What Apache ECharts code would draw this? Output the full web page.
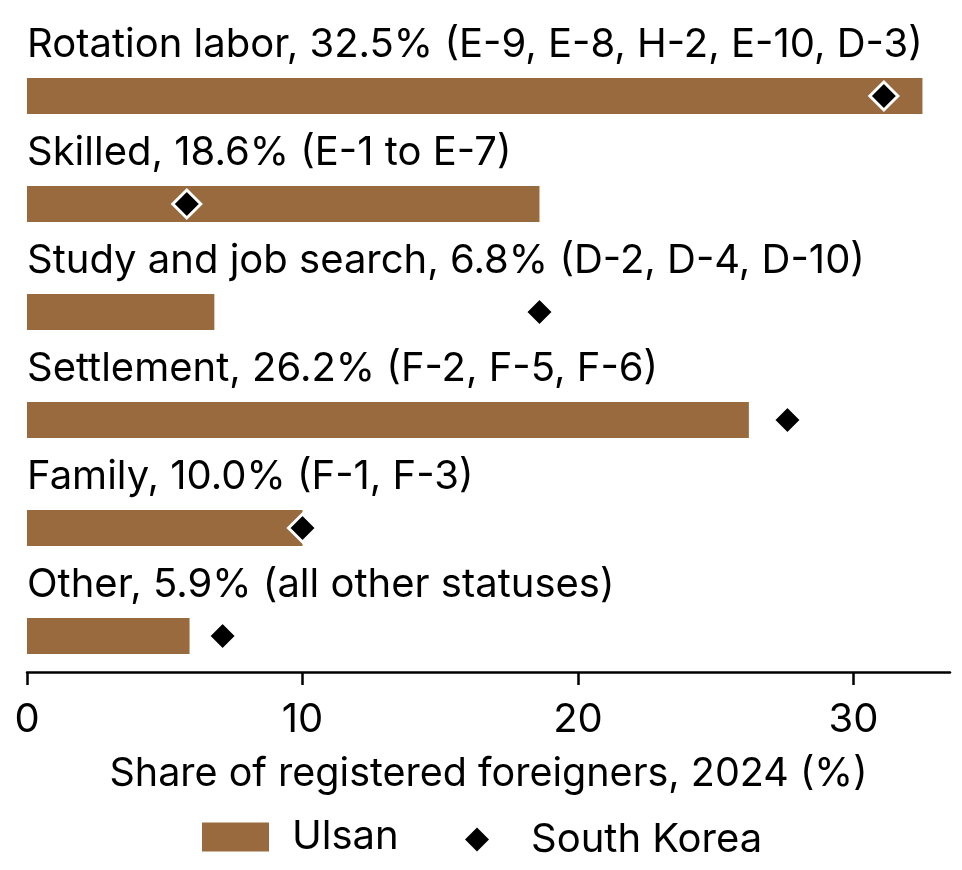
<!DOCTYPE html>
<html lang="en" style="height: 100%">
<head>
    <meta charset="UTF-8">
    <title>Registered foreigners by status</title>
    <script src="https://cdn.jsdelivr.net/npm/echarts@6/dist/echarts.min.js"></script>
</head>
<body style="height: 100%; margin: 0; background: #fff">
<div id="container" style="width: 962px; height: 870px"></div>

<script type="text/javascript">
    // status groups, top to bottom
    var categories = ['Rotation labor', 'Skilled', 'Study and job search', 'Settlement', 'Family', 'Other'];
    var visaCodes = ['E-9, E-8, H-2, E-10, D-3', 'E-1 to E-7', 'D-2, D-4, D-10', 'F-2, F-5, F-6', 'F-1, F-3', 'all other statuses'];
    // share of registered foreigners, 2024 (%)
    var ulsan = [32.5, 18.6, 6.8, 26.2, 10.0, 5.9];
    var southKorea = [31.1, 5.8, 18.6, 27.6, 10.0, 7.1];
    var xTicks = [0, 10, 20, 30];

    var font = 'Inter';
    var fs = 40;
    var brown = '#996a3e';

    var dom = document.getElementById('container');
    var myChart = echarts.init(dom, null, {renderer: 'canvas'});

    var option = {
        animation: false,
        backgroundColor: '#fff',
        textStyle: {fontFamily: font, color: '#000'},
        grid: {left: 27, right: 12, top: 42, bottom: 180, containLabel: false},
        legend: [
            {
                data: ['Ulsan'],
                left: 202, top: 817,
                padding: 0,
                itemWidth: 67, itemHeight: 29,
                icon: 'rect',
                textStyle: {fontFamily: font, fontSize: fs, color: '#000', padding: [0, 0, 0, 18]}
            },
            {
                data: ['South Korea'],
                left: 465, top: 819.5,
                padding: 0,
                itemWidth: 24, itemHeight: 24,
                icon: 'diamond',
                itemStyle: {borderWidth: 0, opacity: 1},
                textStyle: {fontFamily: font, fontSize: fs, color: '#000', padding: [0, 0, 0, 37]}
            }
        ],
        xAxis: {
            type: 'value',
            min: 0,
            max: 33.5,
            interval: 10,
            offset: -18,
            splitLine: {show: false},
            axisLine: {show: true, lineStyle: {color: '#000', width: 2.5}},
            axisTick: {show: true, length: 13, lineStyle: {color: '#000', width: 2.5}},
            axisLabel: {
                fontFamily: font, fontSize: fs, color: '#000', margin: 28,
                showMaxLabel: false,
                formatter: function (v) {
                    return xTicks.indexOf(v) >= 0 ? String(v) : '';
                }
            },
            name: 'Share of registered foreigners, 2024 (%)',
            nameLocation: 'middle',
            nameGap: 82,
            nameTextStyle: {fontFamily: font, fontSize: 39.5, color: '#000'}
        },
        yAxis: {
            type: 'category',
            inverse: true,
            data: categories,
            axisLine: {show: false},
            axisTick: {show: false},
            axisLabel: {show: false},
            splitLine: {show: false}
        },
        series: [
            {
                name: 'Ulsan',
                type: 'bar',
                data: ulsan,
                barWidth: 36,
                itemStyle: {color: brown},
                label: {
                    show: true,
                    position: [0, -33],
                    align: 'left',
                    verticalAlign: 'middle',
                    fontFamily: font,
                    fontSize: fs,
                    color: '#000',
                    formatter: function (p) {
                        return categories[p.dataIndex] + ', ' + ulsan[p.dataIndex].toFixed(1) +
                            '% (' + visaCodes[p.dataIndex] + ')';
                    }
                },
                z: 2
            },
            {
                name: 'South Korea',
                type: 'scatter',
                data: southKorea,
                symbol: 'diamond',
                symbolSize: 28,
                itemStyle: {color: '#000', opacity: 1, borderColor: '#fff', borderWidth: 3},
                z: 3
            }
        ]
    };
    myChart.setOption(option, true);
</script>
</body>
</html>
